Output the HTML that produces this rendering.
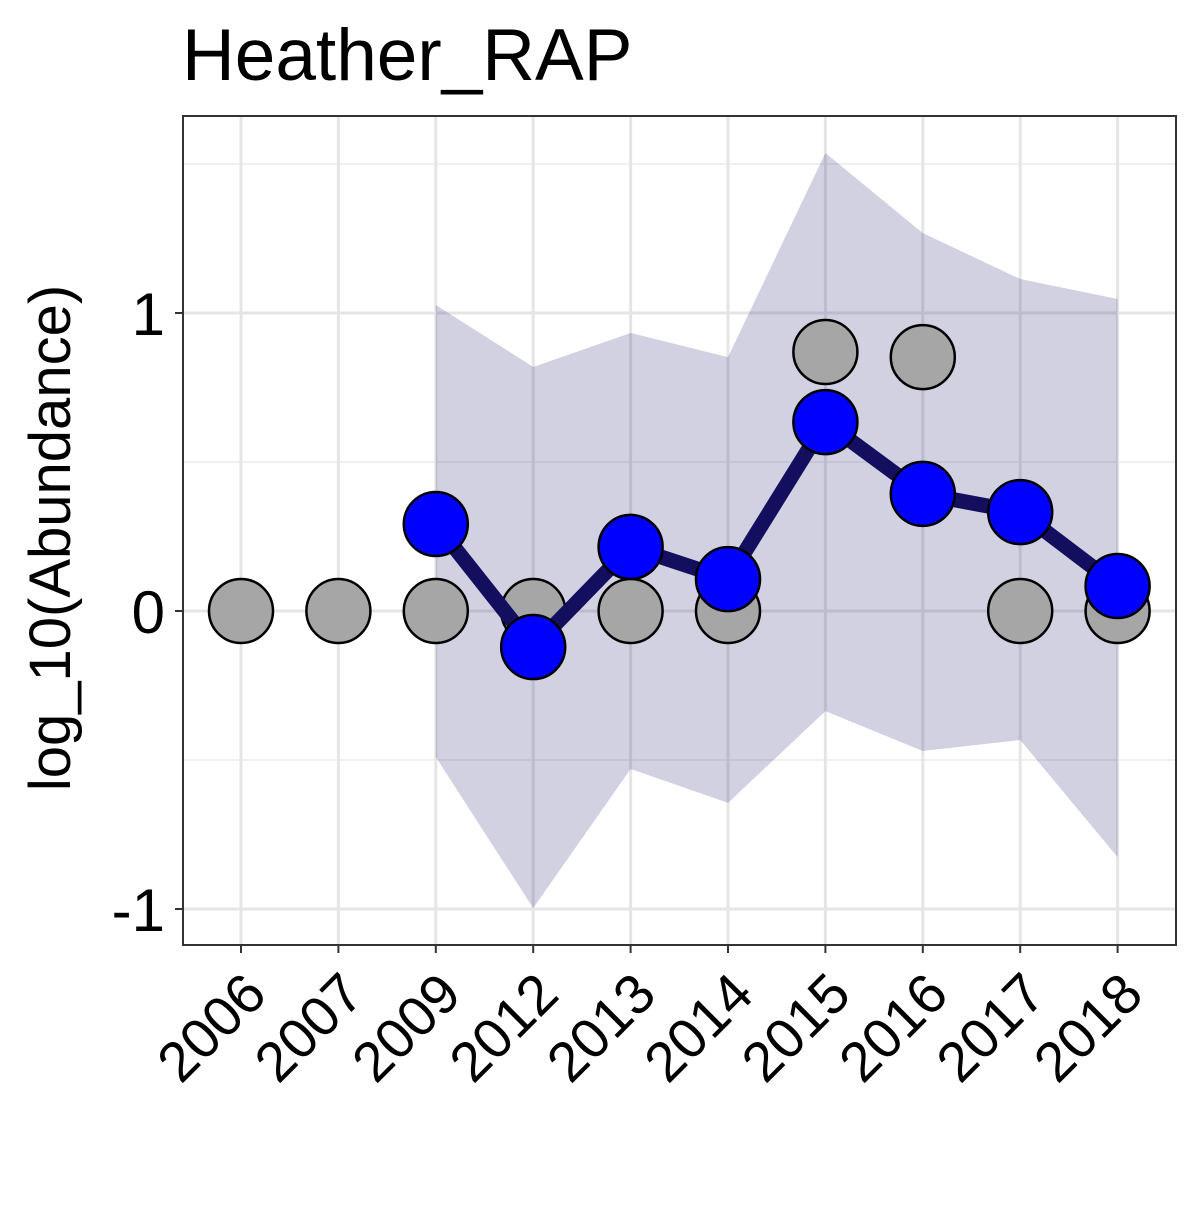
<!DOCTYPE html>
<html><head><meta charset="utf-8"><style>
body{margin:0;background:#fff}
svg text{font-family:"Liberation Sans",Arial,sans-serif;fill:#000}
</style></head><body>
<svg id="chart" width="1200" height="1200" xmlns="http://www.w3.org/2000/svg">
<rect width="1200" height="1200" fill="#fff"/>
<text x="182" y="80" font-size="73">Heather_RAP</text>
<text transform="translate(70,538) rotate(-90)" text-anchor="middle" font-size="58">log_10(Abundance)</text>
<g id="plot"></g>
</svg>
<script>
const years=["2006","2007","2009","2012","2013","2014","2015","2016","2017","2018"];
const observed=[0,0,0,0,0,0,0.869,0.852,0,0];
const modelYears=["2009","2012","2013","2014","2015","2016","2017","2018"];
const fitted=[0.292,-0.121,0.215,0.107,0.634,0.393,0.332,0.084];
const upper=[1.027,0.819,0.933,0.852,1.537,1.268,1.114,1.047];
const lower=[-0.49,-0.997,-0.53,-0.644,-0.336,-0.47,-0.433,-0.826];
const yTicks=[-1,0,1];
const yMinor=[-0.5,0.5,1.5];

const L=183,R=1176,T=116,B=945;
const xPos=c=>241+years.indexOf(c)*97.4;
const yPos=v=>611-v*298;
const NS="http://www.w3.org/2000/svg";
const g=document.getElementById('plot');
function mk(t,a){const e=document.createElementNS(NS,t);for(const k in a)e.setAttribute(k,a[k]);g.appendChild(e);return e;}

yMinor.forEach(v=>{const e=mk('line',{x1:L,x2:R,y1:yPos(v),y2:yPos(v),stroke:'#ebebeb','stroke-width':1.5});

});
yTicks.forEach(v=>{const e=mk('line',{x1:L,x2:R,y1:yPos(v),y2:yPos(v),stroke:'#e5e5e5','stroke-width':3});

});
years.forEach(c=>{const e=mk('line',{x1:xPos(c),x2:xPos(c),y1:T,y2:B,stroke:'#e5e5e5','stroke-width':3});

});

let pts=modelYears.map((c,i)=>xPos(c)+','+yPos(upper[i]));
for(let i=modelYears.length-1;i>=0;i--)pts.push(xPos(modelYears[i])+','+yPos(lower[i]));
const rib=mk('polygon',{points:pts.join(' '),fill:'rgba(25,25,112,0.2)'});



years.forEach((c,i)=>{const e=mk('circle',{cx:xPos(c),cy:yPos(observed[i]),r:32,fill:'#a6a6a6',stroke:'#000','stroke-width':2.5});

});

const ln=mk('polyline',{points:modelYears.map((c,i)=>xPos(c)+','+yPos(fitted[i])).join(' '),fill:'none',stroke:'#130f5e','stroke-width':15,'stroke-linejoin':'round'});


modelYears.forEach((c,i)=>{const e=mk('circle',{cx:xPos(c),cy:yPos(fitted[i]),r:32,fill:'#0000ff',stroke:'#000','stroke-width':2.5});

});

const fr=mk('rect',{x:L,y:T,width:R-L,height:B-T,fill:'none',stroke:'#333','stroke-width':2});



yTicks.forEach(v=>{const t=mk('line',{x1:L-8,x2:L,y1:yPos(v),y2:yPos(v),stroke:'#333','stroke-width':2});


const e=mk('text',{x:L-18,y:yPos(v)+22,'text-anchor':'end','font-size':60});e.textContent=v;

});
years.forEach(c=>{const x=xPos(c);const t=mk('line',{x1:x,x2:x,y1:B,y2:B+8,stroke:'#333','stroke-width':2});


const e=mk('text',{transform:`translate(${x+28},${B+52}) rotate(-45)`,'text-anchor':'end','font-size':56});e.textContent=c;

});
</script>
</body></html>
